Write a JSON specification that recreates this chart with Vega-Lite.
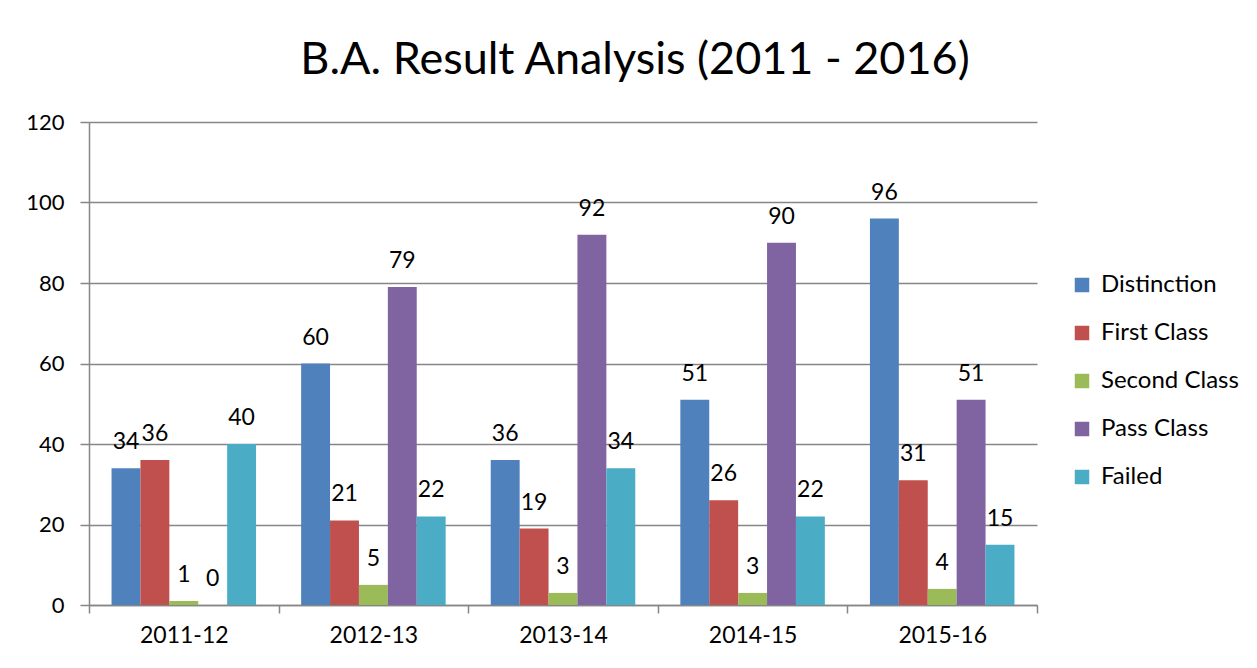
{
  "$schema": "https://vega.github.io/schema/vega-lite/v6.json",
  "autosize": {"type": "none"},
  "width": 948,
  "height": 483,
  "padding": {"left": 89, "top": 122, "right": 220, "bottom": 63},
  "background": "white",
  "title": {
    "text": "B.A. Result Analysis (2011 - 2016)",
    "font": "Lato",
    "fontSize": 45,
    "fontWeight": "normal",
    "color": "#000000",
    "anchor": "middle",
    "dx": 72,
    "offset": 28
  },
  "data": {
    "values": [
      {"year": "2011-12", "cat": "Distinction", "v": 34},
      {"year": "2011-12", "cat": "First Class", "v": 36},
      {"year": "2011-12", "cat": "Second Class", "v": 1},
      {"year": "2011-12", "cat": "Pass Class", "v": 0},
      {"year": "2011-12", "cat": "Failed", "v": 40},
      {"year": "2012-13", "cat": "Distinction", "v": 60},
      {"year": "2012-13", "cat": "First Class", "v": 21},
      {"year": "2012-13", "cat": "Second Class", "v": 5},
      {"year": "2012-13", "cat": "Pass Class", "v": 79},
      {"year": "2012-13", "cat": "Failed", "v": 22},
      {"year": "2013-14", "cat": "Distinction", "v": 36},
      {"year": "2013-14", "cat": "First Class", "v": 19},
      {"year": "2013-14", "cat": "Second Class", "v": 3},
      {"year": "2013-14", "cat": "Pass Class", "v": 92},
      {"year": "2013-14", "cat": "Failed", "v": 34},
      {"year": "2014-15", "cat": "Distinction", "v": 51},
      {"year": "2014-15", "cat": "First Class", "v": 26},
      {"year": "2014-15", "cat": "Second Class", "v": 3},
      {"year": "2014-15", "cat": "Pass Class", "v": 90},
      {"year": "2014-15", "cat": "Failed", "v": 22},
      {"year": "2015-16", "cat": "Distinction", "v": 96},
      {"year": "2015-16", "cat": "First Class", "v": 31},
      {"year": "2015-16", "cat": "Second Class", "v": 4},
      {"year": "2015-16", "cat": "Pass Class", "v": 51},
      {"year": "2015-16", "cat": "Failed", "v": 15}
    ]
  },
  "encoding": {
    "x": {
      "field": "year",
      "type": "nominal",
      "title": null,
      "scale": {"paddingInner": 0, "paddingOuter": 0},
      "axis": {
        "labelAngle": 0,
        "labelFont": "Lato",
        "labelFontSize": 23,
        "labelColor": "#000000",
        "labelPadding": 11,
        "domainColor": "#868686",
        "domainWidth": 1.5,
        "tickColor": "#868686",
        "tickWidth": 1.5,
        "tickSize": 8,
        "tickBand": "extent",
        "grid": false
      }
    },
    "xOffset": {
      "field": "cat",
      "type": "nominal",
      "sort": ["Distinction", "First Class", "Second Class", "Pass Class", "Failed"],
      "scale": {"paddingInner": 0, "paddingOuter": 0.78}
    },
    "y": {
      "field": "v",
      "type": "quantitative",
      "title": null,
      "scale": {"domain": [0, 120]},
      "axis": {
        "values": [0, 20, 40, 60, 80, 100, 120],
        "labelFont": "Lato",
        "labelFontSize": 22,
        "labelColor": "#000000",
        "labelPadding": 16,
        "domainColor": "#868686",
        "domainWidth": 1.5,
        "tickColor": "#868686",
        "tickWidth": 1.5,
        "tickSize": 9,
        "gridColor": "#868686",
        "gridWidth": 1.5
      }
    }
  },
  "layer": [
    {
      "mark": {"type": "bar"},
      "encoding": {
        "color": {
          "field": "cat",
          "type": "nominal",
          "sort": ["Distinction", "First Class", "Second Class", "Pass Class", "Failed"],
          "scale": {
            "domain": ["Distinction", "First Class", "Second Class", "Pass Class", "Failed"],
            "range": ["#4F81BD", "#C0504D", "#9BBB59", "#8064A2", "#4BACC6"]
          },
          "legend": {
            "title": null,
            "orient": "none",
            "legendX": 981,
            "legendY": 151,
            "symbolType": "square",
            "symbolSize": 210,
            "symbolStrokeWidth": 0,
            "labelFont": "Lato",
            "labelFontSize": 24,
            "labelColor": "#000000",
            "labelOffset": 7,
            "rowPadding": 24,
            "labelLimit": 300
          }
        }
      }
    },
    {
      "mark": {"type": "text", "baseline": "alphabetic", "dy": -19, "font": "Lato", "fontSize": 23, "color": "#000000"},
      "encoding": {
        "text": {"field": "v", "type": "quantitative"}
      }
    }
  ],
  "config": {"view": {"stroke": null}}
}
